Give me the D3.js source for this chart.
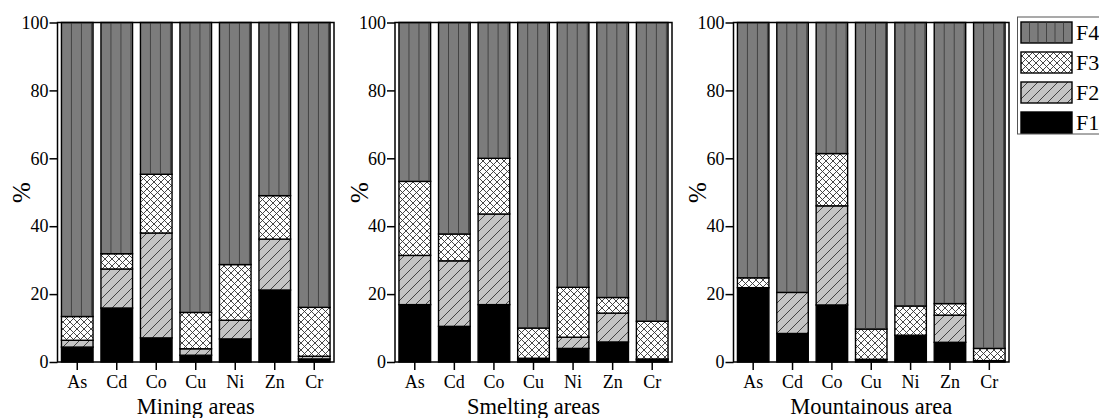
<!DOCTYPE html>
<html>
<head>
<meta charset="utf-8">
<script src="https://cdn.jsdelivr.net/npm/d3@7/dist/d3.min.js"></script>
<style>
  html, body { margin: 0; padding: 0; background: #fff; }
  svg { display: block; }
  text { font-family: "Liberation Serif", "Times New Roman", serif; fill: #000; }
</style>
</head>
<body>
<svg id="chart" width="1099" height="418"></svg>
<script>
// ---------- data ----------
const categories = ["As", "Cd", "Co", "Cu", "Ni", "Zn", "Cr"];
const areaTitles = ["Mining areas", "Smelting areas", "Mountainous area"];
const fractions = ["F1", "F2", "F3", "F4"];
const legendOrder = ["F4", "F3", "F2", "F1"];
const yTicks = [0, 20, 40, 60, 80, 100];

// Mining areas (%)
const miningF1 = [4.4, 15.9, 7.1, 2.0, 6.8, 21.2, 0.9];
const miningF2 = [2.0, 11.5, 30.9, 1.9, 5.5, 15.0, 0.8];
const miningF3 = [7.0, 4.5, 17.3, 10.7, 16.4, 12.8, 14.4];
const miningF4 = [86.6, 68.1, 44.7, 85.4, 71.3, 51.0, 83.9];
// Smelting areas (%)
const smeltingF1 = [16.9, 10.5, 16.9, 0.7, 4.0, 5.9, 0.6];
const smeltingF2 = [14.5, 19.3, 26.7, 0.4, 3.3, 8.5, 0.3];
const smeltingF3 = [21.8, 7.9, 16.4, 8.9, 14.7, 4.6, 11.1];
const smeltingF4 = [46.8, 62.3, 40.0, 90.0, 78.0, 81.0, 88.0];
// Mountainous area (%)
const mountainF1 = [21.9, 8.4, 16.8, 0.8, 7.9, 5.8, 0.4];
const mountainF2 = [0.0, 12.1, 29.2, 0.0, 0.0, 8.0, 0.0];
const mountainF3 = [2.9, 0.0, 15.4, 8.9, 8.6, 3.4, 3.6];
const mountainF4 = [75.2, 79.5, 38.6, 90.3, 83.5, 82.8, 96.0];

const areaSeries = [
  [miningF1, miningF2, miningF3, miningF4],
  [smeltingF1, smeltingF2, smeltingF3, smeltingF4],
  [mountainF1, mountainF2, mountainF3, mountainF4]
];

// ---------- layout ----------
const svg = d3.select("#chart");
const panelX = [[57.5, 334], [395, 672], [733.5, 1009]];
const yTop = 22.5, yBottom = 362;
const y = d3.scaleLinear().domain([0, 100]).range([yBottom, yTop]);
const FONT = "Liberation Serif";

// ---------- patterns ----------
const defs = svg.append("defs");
const hatch = defs.append("pattern").attr("id", "pF2")
  .attr("patternUnits", "userSpaceOnUse").attr("width", 10).attr("height", 10);
hatch.append("rect").attr("width", 10).attr("height", 10).attr("fill", "#c4c4c4");
hatch.append("path").attr("d", "M-1,11 L11,-1 M-3,3 L3,-3 M7,13 L13,7")
  .attr("stroke", "#333").attr("stroke-width", 0.9);

const cross = defs.append("pattern").attr("id", "pF3")
  .attr("patternUnits", "userSpaceOnUse").attr("width", 7).attr("height", 7);
cross.append("rect").attr("width", 7).attr("height", 7).attr("fill", "#fff");
cross.append("path").attr("d", "M0,0 L7,7 M0,7 L7,0")
  .attr("stroke", "#333").attr("stroke-width", 0.9);

const fillFor = {F1: "#000", F2: "url(#pF2)", F3: "url(#pF3)", F4: "#7c7c7c"};
const stripeColor = "#444";

// ---------- panels ----------
areaSeries.forEach((series, pi) => {
  const [x0, x1] = panelX[pi];
  const x = d3.scaleBand().domain(categories).range([x0, x1])
    .paddingInner(0.2).paddingOuter(0.1);
  const g = svg.append("g");

  const rows = categories.map((c, i) => {
    const o = {cat: c};
    fractions.forEach((f, k) => o[f] = series[k][i]);
    return o;
  });
  const stacked = d3.stack().keys(fractions)(rows);

  stacked.forEach(layer => {
    const key = layer.key;
    const lg = g.append("g");
    lg.selectAll("rect").data(layer.filter(d => key === "F4" || d[1] - d[0] > 0.05))
      .join("rect")
      .attr("x", d => x(d.data.cat))
      .attr("width", x.bandwidth())
      .attr("y", d => key === "F4" ? y(100) : y(d[1]))
      .attr("height", d => key === "F4" ? y(d[0]) - y(100) : y(d[0]) - y(d[1]))
      .attr("fill", fillFor[key])
      .attr("stroke", "#000").attr("stroke-width", 1.4);
    if (key === "F4") {
      layer.forEach(d => {
        [10, 20, 30].forEach(off => {
          if (off < x.bandwidth() - 0.5) {
            lg.append("line")
              .attr("x1", x(d.data.cat) + off).attr("x2", x(d.data.cat) + off)
              .attr("y1", y(100) + 0.7).attr("y2", y(d[0]) - 0.7)
              .attr("stroke", stripeColor).attr("stroke-width", 1);
          }
        });
      });
    }
  });

  // frame
  g.append("rect").attr("x", x0).attr("y", yTop)
    .attr("width", x1 - x0).attr("height", yBottom - yTop)
    .attr("fill", "none").attr("stroke", "#000").attr("stroke-width", 1.5);

  // axes
  const ya = g.append("g").attr("transform", `translate(${x0},0)`)
    .call(d3.axisLeft(y).tickValues(yTicks).tickSize(8).tickPadding(1));
  ya.attr("font-family", FONT).attr("font-size", 18);
  ya.select(".domain").remove();
  ya.selectAll("line").attr("stroke", "#000").attr("stroke-width", 1.5);
  ya.selectAll("text").attr("font-size", 18).attr("font-family", FONT).attr("fill", "#000");

  const xa = g.append("g").attr("transform", `translate(0,${yBottom})`)
    .call(d3.axisBottom(x).tickSize(8).tickPadding(5));
  xa.attr("font-family", FONT).attr("font-size", 18);
  xa.select(".domain").remove();
  xa.selectAll("line").attr("stroke", "#000").attr("stroke-width", 1.5);
  xa.selectAll("text").attr("font-size", 18).attr("font-family", FONT).attr("fill", "#000");

  // y label
  g.append("text")
    .attr("transform", `translate(${x0 - 35},${192.5}) rotate(-90)`)
    .attr("text-anchor", "middle").attr("dy", "0.3em")
    .attr("font-family", FONT).attr("font-size", 25).text("%");

  // title
  g.append("text")
    .attr("x", (x0 + x1) / 2).attr("y", 414)
    .attr("text-anchor", "middle").attr("font-family", FONT).attr("font-size", 22.5)
    .text(areaTitles[pi]);
});

// ---------- legend ----------
const lgd = svg.append("g");
lgd.append("rect").attr("x", 1017.5).attr("y", 17).attr("width", 100).attr("height", 117)
  .attr("fill", "#fff").attr("stroke", "#555").attr("stroke-width", 1);
const legendY = d3.scalePoint().domain(legendOrder).range([22, 112]);
legendOrder.forEach(k => {
  const yy = legendY(k);
  lgd.append("rect").attr("x", 1021).attr("y", yy).attr("width", 51).attr("height", 21)
    .attr("fill", fillFor[k]).attr("stroke", "#000").attr("stroke-width", 1.4);
  if (k === "F4") {
    d3.range(1, 6).forEach(j => {
      lgd.append("line").attr("x1", 1021 + j * 8.5).attr("x2", 1021 + j * 8.5)
        .attr("y1", yy + 0.7).attr("y2", yy + 20.3)
        .attr("stroke", stripeColor).attr("stroke-width", 1);
    });
  }
  lgd.append("text").attr("x", 1076).attr("y", yy + 10.5).attr("dy", "0.35em")
    .attr("font-family", FONT).attr("font-size", 22).text(k);
});
</script>
</body>
</html>
